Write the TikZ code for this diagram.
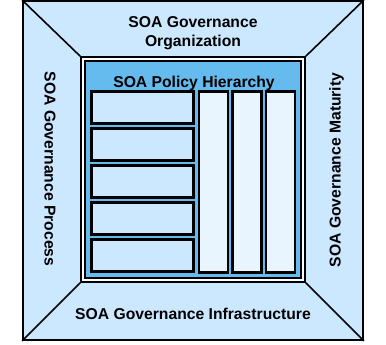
\documentclass[tikz,border=0pt]{standalone}
\usepackage{fontspec}
\setmainfont{Liberation Sans}
\usepackage{xcolor}
\definecolor{GovLight}{RGB}{204,232,255}
\definecolor{GovMid}{RGB}{102,187,238}
\definecolor{GovPale}{RGB}{232,245,255}
\usepackage{tikz}
\usetikzlibrary{positioning}

\begin{document}
\begin{tikzpicture}[
        x=1pt, y=-1pt,
        govframe/.style={rectangle, draw=black, line width=1.8pt, fill=GovLight, inner sep=0pt},
        panel/.style={rectangle, draw=black, line width=1.6pt, inner sep=0pt},
        policybox/.style={rectangle, draw=black, line width=2.1pt, fill=GovLight, minimum width=102pt, minimum height=32pt, inner sep=0pt},
        policycol/.style={rectangle, draw=black, line width=2.1pt, fill=GovPale, minimum width=29pt, minimum height=181pt, inner sep=0pt},
        govlabel/.style={font=\bfseries\fontsize{15.7}{18.5}\selectfont, align=center, inner sep=0pt},
        edge/.style={line width=1.6pt, black}
    ]
        \useasboundingbox (0,0) rectangle (386,345);

        % Zones
        \node[govframe, minimum width=340pt, minimum height=339pt] (outer) at (193,170.5) {};
        \node[panel, fill=white, minimum width=224pt, minimum height=225pt] (frame) at (193,169.5) {};
        \node[panel, fill=GovMid, minimum width=216pt, minimum height=217pt] (policy) at (193,169.5) {};

        % Corners
        \draw[edge] (outer.north west) -- (frame.north west);
        \draw[edge] (outer.north east) -- (frame.north east);
        \draw[edge] (outer.south west) -- (frame.south west);
        \draw[edge] (outer.south east) -- (frame.south east);

        % Policy boxes
        \foreach \i in {1,...,5}
            \node[policybox] (box\i) at (142.5,{107.5+37*(\i-1)}) {};
        \foreach \j/\x in {1/213.5, 2/247, 3/280.5}
            \node[policycol] (col\j) at (\x,182) {};

        % Labels
        \node[govlabel] (organization) at (193,33) {SOA Governance\\Organization};
        \node[govlabel] (infrastructure) at (193,313.5) {SOA Governance Infrastructure};
        \node[govlabel, rotate=-90] (process) at (50,169) {SOA Governance Process};
        \node[govlabel, rotate=90] (maturity) at (336.5,170) {SOA Governance Maturity};
        \node[govlabel] (hierarchy) at (194,83) {SOA Policy Hierarchy};
    \end{tikzpicture}
\end{document}
